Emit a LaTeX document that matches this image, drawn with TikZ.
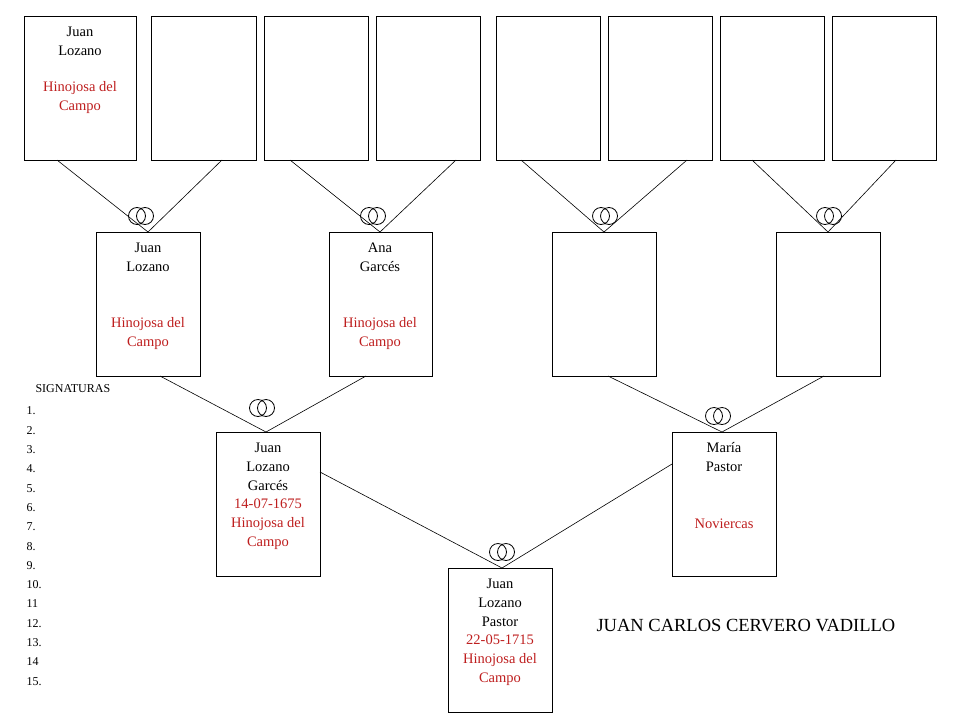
\documentclass[tikz,border=0pt]{standalone}
\usepackage{fontspec}
\setmainfont{Liberation Serif}
\definecolor{rd}{RGB}{190,30,30}
\begin{document}
\begin{tikzpicture}[x=1pt,y=-1pt,
  box/.style={draw,thick,line width=0.8pt,inner sep=0pt,anchor=north west},
  t/.style={font=\fontsize{14.5}{19}\selectfont,align=center},
  ln/.style={line width=0.6pt},
  ring/.style={line width=0.8pt}]
\useasboundingbox (0,0) rectangle (960,720);
\newcommand\bx[5]{\node[box,minimum width=#3-#1,minimum height=#4-#2] (#5) at (#1,#2) {};}
\bx{24}{16}{136}{160}{a1}\bx{151}{16}{256}{160}{a2}\bx{264}{16}{368}{160}{a3}\bx{376}{16}{480}{160}{a4}
\bx{496}{16}{600}{160}{a5}\bx{608}{16}{712}{160}{a6}\bx{720}{16}{824}{160}{a7}\bx{832}{16}{936}{160}{a8}
\bx{96}{232}{200}{376}{b1}\bx{329}{232}{432}{376}{b2}\bx{552}{232}{656}{376}{b3}\bx{776}{232}{880}{376}{b4}
\bx{216}{432}{320}{576}{c1}\bx{672}{432}{776}{576}{c2}
\bx{448}{568}{552}{712}{d1}
% texts
\node[t] (ta1) at (80,41) {Juan\\Lozano};
\node[t,text=rd] (ta1b) at (80,98) {Hinojosa del\\Campo};
\node[t] (tb1) at (148,257) {Juan\\Lozano};
\node[t,text=rd] (tb1b) at (148,334) {Hinojosa del\\Campo};
\node[t] (tb2) at (380,257) {Ana\\Garcés};
\node[t,text=rd] (tb2b) at (380,334) {Hinojosa del\\Campo};
\node[t] (tc1) at (268,467) {Juan\\Lozano\\Garcés};
\node[t,text=rd] (tc1b) at (268,524) {14-07-1675\\Hinojosa del\\Campo};
\node[t] (tc2) at (724,457) {María\\Pastor};
\node[t,text=rd] (tc2b) at (724,524) {Noviercas};
\node[t] (td1) at (500,603) {Juan\\Lozano\\Pastor};
\node[t,text=rd] (td1b) at (500,660) {22-05-1715\\Hinojosa del\\Campo};
% connectors
\coordinate (m1) at (148,232);\coordinate (m2) at (380,232);\coordinate (m3) at (604,232);\coordinate (m4) at (828,232);
\coordinate (n1) at (266,432);\coordinate (n2) at (722,432);\coordinate (p1) at (502,568);
\draw[ln] (57,160) -- (m1) -- (222,160);
\draw[ln] (290,160) -- (m2) -- (456,160);
\draw[ln] (521,160) -- (m3) -- (687,160);
\draw[ln] (752,160) -- (m4) -- (896,160);
\draw[ln] (160,376) -- (n1) -- (366,376);
\draw[ln] (608,376) -- (n2) -- (824,376);
\draw[ln] (320,472) -- (p1) -- (672,464);
% rings
\foreach \x/\y in {141/216,373/216,605/216,829/216,262/408,718/416,502/552}{
  \draw[ring] (\x-4,\y) circle (8.5); \draw[ring] (\x+4,\y) circle (8.5);}
% signatures
\node[font=\fontsize{12}{13}\selectfont,anchor=west] (sig) at (32,389) {SIGNATURAS};
\foreach \n [count=\i] in {1.,2.,3.,4.,5.,6.,7.,8.,9.,10.,11,12.,13.,14,15.}{
  \node[font=\fontsize{12}{13}\selectfont,anchor=west] (s\i) at (23,{411+(\i-1)*19.3}) {\n};}
\node[font=\fontsize{18.5}{20}\selectfont,anchor=west] (title) at (593,626) {JUAN CARLOS CERVERO VADILLO};
\end{tikzpicture}
\end{document}
